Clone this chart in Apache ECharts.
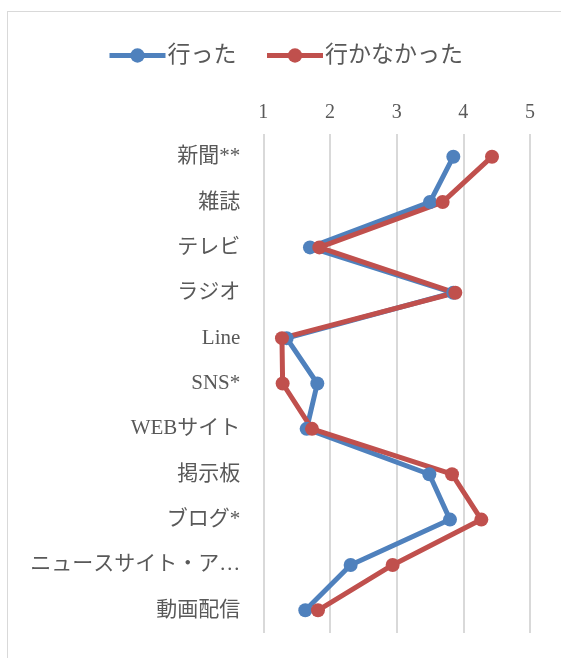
<!DOCTYPE html>
<html>
<head>
<meta charset="utf-8">
<script src="https://cdn.jsdelivr.net/npm/echarts@6/dist/echarts.min.js"></script>
<style>
html,body{margin:0;padding:0;background:#fff;}
#frame{position:absolute;left:7px;top:11px;width:560px;height:660px;border:1.5px solid #d9d9d9;box-sizing:border-box;}
#c{position:absolute;left:0;top:0;width:561px;height:658px;}
</style>
</head>
<body>
<div id="frame"></div>
<div id="c"></div>
<script>
const categories = ["新聞**","雑誌","テレビ","ラジオ","Line","SNS*","WEBサイト","掲示板","ブログ*","ニュースサイト・ア…","動画配信"];
const went = [3.85,3.50,1.70,3.85,1.35,1.81,1.65,3.49,3.80,2.31,1.63];
const notWent = [4.43,3.69,1.84,3.88,1.28,1.29,1.73,3.83,4.27,2.94,1.82];
const seriesNames = ["行った","行かなかった"];
const valueTicks = [1,2,3,4,5];

const font = '"Liberation Serif","DejaVu Serif","Noto Sans CJK JP",serif';
const chart = echarts.init(document.getElementById('c'), null, {renderer:'canvas'});
chart.setOption({
  animation:false,
  backgroundColor:'transparent',
  color:['#4F81BD','#C0504D'],
  legend:{
    top:39, left:102, itemGap:28, itemWidth:56, itemHeight:18,
    lineStyle:{width:5},
    textStyle:{fontFamily:font,fontSize:23,color:'#595959',padding:[0,0,0,-3]},
    data:seriesNames
  },
  grid:{left:263.3,right:31,top:134,bottom:25,containLabel:false},
  xAxis:{
    type:'value', position:'top', min:valueTicks[0], max:valueTicks[valueTicks.length-1], interval:1,
    axisLine:{show:false}, axisTick:{show:false},
    axisLabel:{fontFamily:font,fontSize:20,color:'#595959',margin:11},
    splitLine:{show:true,lineStyle:{color:'#d9d9d9',width:2}}
  },
  yAxis:{
    type:'category', inverse:true, data:categories, boundaryGap:true,
    axisLine:{show:false}, axisTick:{show:false}, splitLine:{show:false},
    axisLabel:{fontFamily:font,fontSize:21,color:'#595959',margin:23}
  },
  series:[
    {name:seriesNames[0],type:'line',data:went,symbol:'circle',symbolSize:14,lineStyle:{width:5},itemStyle:{color:'#4F81BD'}},
    {name:seriesNames[1],type:'line',data:notWent,symbol:'circle',symbolSize:14,lineStyle:{width:5},itemStyle:{color:'#C0504D'}}
  ]
});
</script>
</body>
</html>
